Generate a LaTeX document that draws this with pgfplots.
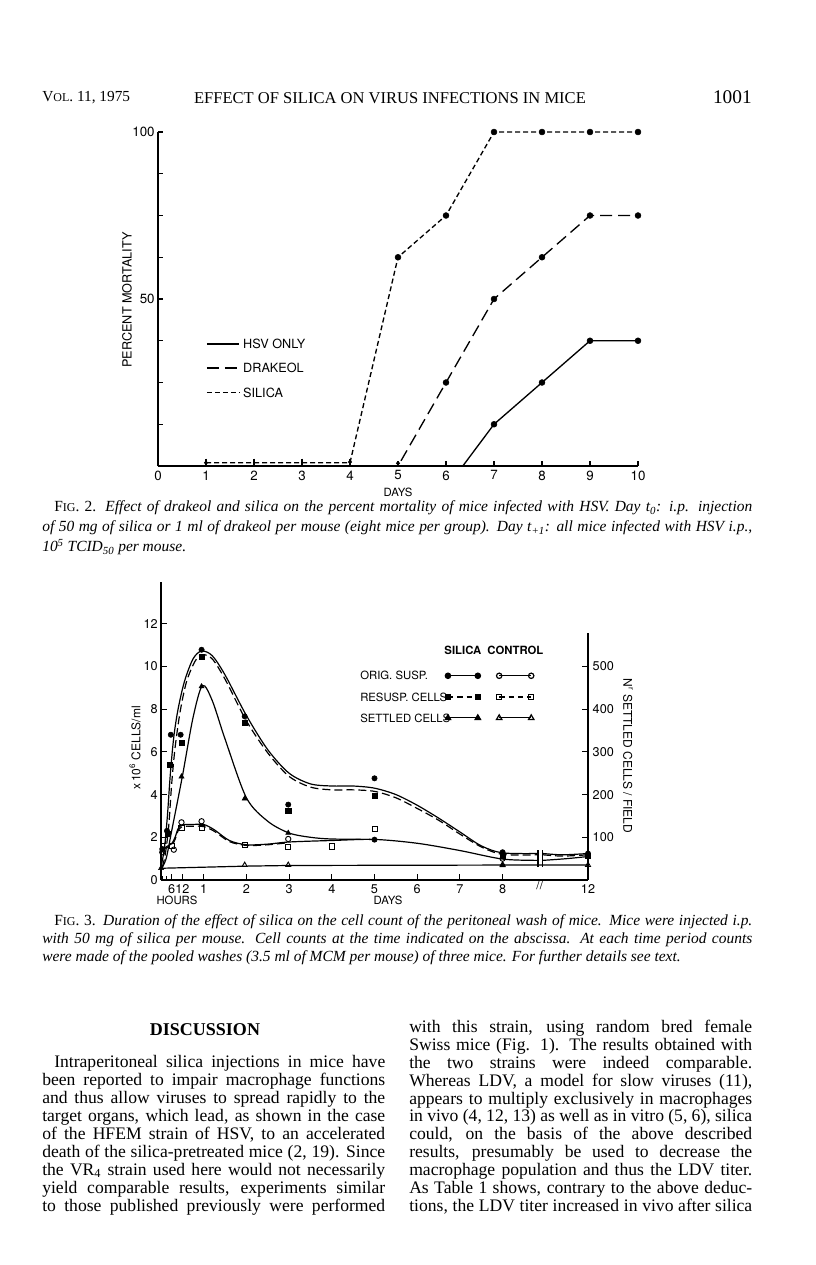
\documentclass[border=0pt]{standalone}
\usepackage{fontspec}
\setmainfont{Liberation Serif}
\newfontfamily\chartfont{TeX Gyre Heros}
\usepackage{pgfplots}
\pgfplotsset{compat=1.18}
\newdimen\px \px=0.75pt
\newcommand\bodyfont{\fontsize{13.2}{13.5}\selectfont}
\newcommand\capfont{\fontsize{11.6}{13.5}\selectfont}
\begin{document}
\begin{tikzpicture}
\begin{scope}[x=0.75pt,y=-0.75pt]
\fill[white] (0,0) rectangle (816,1265);
% ---------- running head
\node[anchor=west,inner sep=0] at (42,98) {\fontsize{11.5}{13}\selectfont V{\fontsize{9}{10}\selectfont OL}. 11, 1975};
\node[inner sep=0] at (390,98) {\fontsize{12.4}{14}\selectfont EFFECT OF SILICA ON VIRUS INFECTIONS IN MICE};
\node[anchor=east,inner sep=0] at (752,97) {\fontsize{14.5}{16}\selectfont 1001};
\node[rotate=90, font=\chartfont\fontsize{9.5}{11}\selectfont] at (127,300) {PERCENT MORTALITY};
\node[font=\chartfont\fontsize{8.5}{10}\selectfont] at (398,492) {DAYS};
% caption fig 2
\node[anchor=west,inner sep=0] at (42,508) {\capfont\makebox[710\px][s]{\hspace*{12\px}F{\fontsize{9}{10}\selectfont IG}. 2. \itshape Effect of drakeol and silica on the percent mortality of mice infected with HSV. Day t\textsubscript{0}: i.p. injection}};
\node[anchor=west,inner sep=0] at (42,528) {\capfont\makebox[710\px][s]{\itshape of 50 mg of silica or 1 ml of drakeol per mouse (eight mice per group). Day t\textsubscript{+1}: all mice infected with HSV i.p.,}};
\node[anchor=west,inner sep=0] at (42,547) {\capfont\itshape 10\textsuperscript{5} TCID\textsubscript{50} per mouse.};
% fig 3 labels
\node[rotate=90, font=\chartfont\fontsize{9}{11}\selectfont] at (135,748) {x\,10\textsuperscript{6} CELLS/ml};
\node[rotate=-90, font=\chartfont\fontsize{9}{11}\selectfont] at (628,756) {N\textsuperscript{r} SETTLED CELLS / FIELD};
\node[font=\chartfont\fontsize{8.5}{10}\selectfont] at (177,900) {HOURS};
\node[font=\chartfont\fontsize{8.5}{10}\selectfont] at (388,900) {DAYS};
% caption fig 3
\node[anchor=west,inner sep=0] at (42,922) {\capfont\makebox[710\px][s]{\hspace*{12\px}F{\fontsize{9}{10}\selectfont IG}. 3. \itshape Duration of the effect of silica on the cell count of the peritoneal wash of mice. Mice were injected i.p.}};
\node[anchor=west,inner sep=0] at (42,940) {\capfont\makebox[710\px][s]{\itshape with 50 mg of silica per mouse. Cell counts at the time indicated on the abscissa. At each time period counts}};
\node[anchor=west,inner sep=0] at (42,958) {\capfont\itshape were made of the pooled washes (3.5 ml of MCM per mouse) of three mice. For further details see text.};
% body text
\node[inner sep=0] at (205,1030) {\fontsize{13.5}{15}\selectfont\bfseries DISCUSSION};
\foreach \yy/\txt in {
 1063/{\hspace*{12\px}Intraperitoneal silica injections in mice have},
 1081/{been reported to impair macrophage functions},
 1099/{and thus allow viruses to spread rapidly to the},
 1117/{target organs, which lead, as shown in the case},
 1135/{of the HFEM strain of HSV, to an accelerated},
 1153/{death of the silica-pretreated mice (2, 19). Since},
 1171/{the VR\textsubscript{4} strain used here would not necessarily},
 1189/{yield comparable results, experiments similar},
 1207/{to those published previously were performed}}
 {\node[anchor=west,inner sep=0] at (42,\yy) {\bodyfont\makebox[343\px][s]{\txt}};}
\foreach \yy/\txt in {
 1028/{with this strain, using random bred female},
 1046/{Swiss mice (Fig. 1). The results obtained with},
 1064/{the two strains were indeed comparable.},
 1082/{Whereas LDV, a model for slow viruses (11),},
 1100/{appears to multiply exclusively in macrophages},
 1117/{in vivo (4, 12, 13) as well as in vitro (5, 6), silica},
 1135/{could, on the basis of the above described},
 1153/{results, presumably be used to decrease the},
 1171/{macrophage population and thus the LDV titer.},
 1189/{As Table 1 shows, contrary to the above deduc-},
 1207/{tions, the LDV titer increased in vivo after silica}}
 {\node[anchor=west,inner sep=0] at (409,\yy) {\bodyfont\makebox[343\px][s]{\txt}};}
\end{scope}

% ================= FIG. 2 =================
\begin{axis}[
  at={(118.5pt,-349.5pt)}, anchor=south west,
  scale only axis, width=360pt, height=250.5pt,
  xmin=0, xmax=10, ymin=0, ymax=100,
  axis x line*=bottom, axis y line*=left,
  axis line style={-, line width=0.9pt},
  tick align=inside, major tick length=3.75pt,
  tick style={line width=0.8pt, black},
  xtick={0,...,10},
  ytick={0,12.5,25,37.5,50,62.5,75,87.5,100},
  yticklabels={,,,,50,,,,100},
  ticklabel style={font=\chartfont\fontsize{10}{12}\selectfont},
  yticklabel style={xshift=1pt},
  /pgf/number format/assume math mode=true,
  clip=false,
]
\addplot[black, line width=1pt] coordinates {(1,0) (6.35,0) (7,12.5) (8,25) (9,37.5) (10,37.5)};
\addplot[black, line width=1pt, dash pattern=on 9pt off 4.5pt] coordinates {(1,0) (5,0) (6,25) (7,50) (8,62.5) (9,75) (10,75)};
\addplot[black, line width=1pt, dash pattern=on 3.75pt off 2.25pt] coordinates {(1,1) (4,1) (5,62.5) (6,75) (7,100) (8,100) (9,100) (10,100)};
\addplot[only marks, mark=*, mark size=2.2pt, black] coordinates {(7,12.5) (8,25) (9,37.5) (10,37.5) (6,25) (7,50) (8,62.5) (9,75) (10,75) (5,62.5) (6,75) (7,100) (8,100) (9,100) (10,100)};
\addplot[only marks, mark=*, mark size=1.3pt, black] coordinates {(5,0.8) (4,1.2) (1,1)};
\addplot[only marks, mark=|, mark size=2.5pt, black, mark options={line width=0.8pt}] coordinates {(1,1.2) (2,1.2) (3,1.2) (4,1.2)};
% legend
\addplot[black, line width=1pt] coordinates {(1.02,36.5) (1.69,36.5)};
\addplot[black, line width=1pt, dash pattern=on 9pt off 4.5pt] coordinates {(1.02,29.3) (1.69,29.3)};
\addplot[black, line width=1pt, dash pattern=on 3.75pt off 2.25pt] coordinates {(1.02,22.0) (1.69,22.0)};
\node[anchor=west, inner sep=0, font=\chartfont\fontsize{9.5}{11}\selectfont] at (axis cs:1.77,36.5) {HSV ONLY};
\node[anchor=west, inner sep=0, font=\chartfont\fontsize{9.5}{11}\selectfont] at (axis cs:1.77,29.3) {DRAKEOL};
\node[anchor=west, inner sep=0, font=\chartfont\fontsize{9.5}{11}\selectfont] at (axis cs:1.77,22.0) {SILICA};
\end{axis}

% ================= FIG. 3 =================
\begin{axis}[
  at={(120.75pt,-660pt)}, anchor=south west,
  scale only axis, width=320.25pt, height=223.5pt,
  xmin=0, xmax=10, ymin=0, ymax=13.95,
  axis x line*=bottom, axis y line*=left,
  axis line style={-, line width=0.9pt},
  tick align=inside, major tick length=4.5pt,
  tick style={line width=0.8pt, black},
  xtick={0.25,0.5,1,2,3,4,5,6,7,8,10},
  xticklabels={6,12,1,2,3,4,5,6,7,8,12},
  extra x ticks={0.042,0.125}, extra x tick labels={},
  extra x tick style={major tick length=3pt},
  ytick={0,2,4,6,8,10,12},
  ticklabel style={font=\chartfont\fontsize{9.5}{11}\selectfont},
  yticklabel style={xshift=1pt},
  /pgf/number format/assume math mode=true,
  clip=false,
]
% silica orig. susp.
\addplot[black, line width=0.9pt, smooth] coordinates {(0.0,0.6) (0.08,1.5) (0.15,3.0) (0.22,5.0) (0.3,6.7) (0.4,8.0) (0.55,9.3) (0.75,10.35) (0.95,10.72) (1.2,10.5) (1.5,9.6) (2.0,7.7) (2.5,6.1) (3.0,5.0) (3.5,4.5) (4.0,4.4) (4.5,4.4) (5.0,4.3) (5.5,4.0) (6.0,3.5) (6.5,2.9) (7.0,2.25) (7.5,1.6) (8.0,1.27) (8.82,1.24)};
\addplot[black, line width=0.9pt, smooth] coordinates {(8.95,1.24) (9.4,1.18) (10,1.24)};
% silica resusp. cells
\addplot[black, line width=0.9pt, smooth, dash pattern=on 6pt off 3pt] coordinates {(0.03,0.6) (0.1,1.2) (0.18,2.5) (0.25,4.5) (0.33,6.2) (0.45,7.9) (0.6,9.3) (0.8,10.25) (0.97,10.55) (1.2,10.35) (1.5,9.4) (2.0,7.45) (2.5,5.95) (3.0,4.85) (3.5,4.35) (4.0,4.22) (4.5,4.22) (5.0,4.15) (5.5,3.85) (6.0,3.35) (6.5,2.8) (7.0,2.15) (7.5,1.55) (8.0,1.2) (8.82,1.18)};
\addplot[black, line width=0.9pt, smooth, dash pattern=on 6pt off 3pt] coordinates {(8.95,1.18) (9.4,1.12) (10,1.18)};
% silica settled cells
\addplot[black, line width=0.9pt, smooth] coordinates {(0,0.5) (0.12,1.0) (0.25,2.3) (0.5,4.85) (0.75,7.6) (0.97,9.1) (1.2,8.4) (1.5,6.6) (2.0,3.85) (2.5,2.75) (3.0,2.2) (3.5,2.0) (4.0,1.92) (5.0,1.9)};
% control curves
\addplot[black, line width=0.9pt, smooth] coordinates {(0.02,1.3) (0.12,1.55) (0.25,1.7) (0.33,2.0) (0.4,2.4) (0.5,2.58) (0.75,2.6) (1.0,2.6) (1.25,2.35) (1.6,1.85) (2.0,1.65) (2.5,1.68) (3.0,1.78) (4.0,1.85) (5.0,1.9) (6.0,1.72) (7.0,1.38) (8.0,0.98) (8.82,0.92)};
\addplot[black, line width=0.9pt, smooth] coordinates {(8.95,0.92) (9.5,1.0) (10,1.1)};
\addplot[black, line width=0.9pt, smooth, dash pattern=on 6pt off 3pt] coordinates {(0.02,1.5) (0.12,1.5) (0.25,1.62) (0.33,1.9) (0.4,2.3) (0.5,2.5) (0.75,2.52) (1.0,2.5) (1.25,2.28) (1.6,1.8) (2.0,1.62) (2.5,1.65) (3.0,1.75)};
% control settled
\addplot[black, line width=0.9pt] coordinates {(0,0.55) (2,0.65) (3,0.68) (8,0.7) (10,0.7)};
% break bars
\addplot[black, line width=0.9pt] coordinates {(8.83,0.6) (8.83,1.42)};
\addplot[black, line width=0.9pt] coordinates {(8.94,0.6) (8.94,1.42)};
% data marks
\addplot[only marks, black, mark=*, mark size=2pt] coordinates {(0.03,1.45) (0.14,2.3) (0.23,6.8) (0.46,6.8) (0.95,10.78) (1.96,7.66) (2.98,3.53) (5,4.76) (5,1.89) (8,1.3) (10,1.24)};
\addplot[only marks, black, mark=square*, mark size=1.9pt] coordinates {(0.16,2.15) (0.2,5.4) (0.48,6.42) (0.95,10.47) (1.96,7.34) (2.98,3.25) (5,3.93) (8,1.15) (10,1.12)};
\addplot[only marks, black, mark=triangle*, mark size=2.2pt] coordinates {(0,0.55) (0.48,4.84) (0.95,9.06) (1.96,3.81) (2.98,2.2) (8,0.68)};
\addplot[only marks, black, mark=o, mark size=2pt, mark options={fill=white, line width=0.7pt}] coordinates {(0.03,1.3) (0.3,1.42) (0.48,2.7) (0.95,2.75) (2.98,1.92) (8,1.0)};
\addplot[only marks, black, mark=square, mark size=1.9pt, mark options={fill=white, line width=0.7pt}] coordinates {(0.04,1.85) (0.25,1.6) (0.48,2.45) (0.95,2.45) (1.96,1.65) (2.98,1.55) (4,1.57) (5,2.39)};
\addplot[only marks, black, mark=triangle, mark size=2.2pt, mark options={fill=white, line width=0.7pt}] coordinates {(1.96,0.7) (2.98,0.7) (8,0.72) (10,0.7)};
% legend samples
\addplot[black, line width=0.9pt, mark=*, mark size=2pt] coordinates {(6.72,9.56) (7.42,9.56)};
\addplot[black, line width=0.9pt, mark=o, mark size=2pt, mark options={fill=white}] coordinates {(7.92,9.56) (8.67,9.56)};
\addplot[black, line width=0.9pt, dash pattern=on 4pt off 3pt, mark=square*, mark size=2pt, mark options={solid}] coordinates {(6.72,8.57) (7.42,8.57)};
\addplot[black, line width=0.9pt, dash pattern=on 4pt off 3pt, mark=square, mark size=2pt, mark options={solid, fill=white}] coordinates {(7.92,8.57) (8.67,8.57)};
\addplot[black, line width=0.9pt, mark=triangle*, mark size=2.3pt] coordinates {(6.72,7.59) (7.42,7.59)};
\addplot[black, line width=0.9pt, mark=triangle, mark size=2.3pt, mark options={fill=white}] coordinates {(7.92,7.59) (8.67,7.59)};
\node[font=\chartfont\bfseries\fontsize{8.5}{10}\selectfont] at (axis cs:7.07,10.77) {SILICA};
\node[font=\chartfont\bfseries\fontsize{8.5}{10}\selectfont] at (axis cs:8.3,10.77) {CONTROL};
\node[anchor=west, inner sep=0, font=\chartfont\fontsize{8.5}{10}\selectfont] at (axis cs:4.66,9.56) {ORIG. SUSP.};
\node[anchor=west, inner sep=0, font=\chartfont\fontsize{8.5}{10}\selectfont] at (axis cs:4.66,8.57) {RESUSP. CELLS};
\node[anchor=west, inner sep=0, font=\chartfont\fontsize{8.5}{10}\selectfont] at (axis cs:4.66,7.59) {SETTLED CELLS};
\node[font=\chartfont\fontsize{9}{10}\selectfont] at (axis cs:8.87,-0.25) {//};
\end{axis}
\begin{axis}[
  at={(120.75pt,-660pt)}, anchor=south west,
  scale only axis, width=320.25pt, height=185.25pt,
  xmin=0, xmax=10, ymin=0, ymax=578.5,
  axis x line=none, axis y line*=right,
  axis line style={-, line width=0.9pt},
  tick align=inside, major tick length=4.5pt,
  tick style={line width=0.8pt, black},
  ytick={100,200,300,400,500},
  ticklabel style={font=\chartfont\fontsize{9.5}{11}\selectfont},
  /pgf/number format/assume math mode=true,
]
\addplot[draw=none] coordinates {(0,0) (10,0)};
\end{axis}
\end{tikzpicture}
\end{document}
